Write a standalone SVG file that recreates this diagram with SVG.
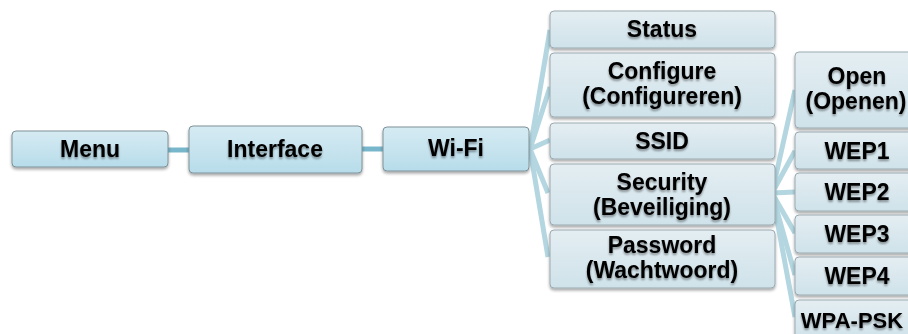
<svg xmlns="http://www.w3.org/2000/svg" width="908" height="334" viewBox="0 0 908 334">
<defs>
<linearGradient id="g1" x1="0" y1="0" x2="0" y2="1">
<stop offset="0" stop-color="#d6ebf3"/>
<stop offset="1" stop-color="#b7dcea"/>
</linearGradient>
<linearGradient id="g2" x1="0" y1="0" x2="0" y2="1">
<stop offset="0" stop-color="#e4eef2"/>
<stop offset="1" stop-color="#cfe2ea"/>
</linearGradient>
<filter id="sh" x="-10%" y="-20%" width="120%" height="150%">
<feGaussianBlur in="SourceAlpha" stdDeviation="1.5"/>
<feOffset dy="2" result="b"/>
<feComponentTransfer><feFuncA type="linear" slope="0.35"/></feComponentTransfer>
<feMerge><feMergeNode/><feMergeNode in="SourceGraphic"/></feMerge>
</filter>
<filter id="ts" x="-10%" y="-30%" width="120%" height="160%">
<feGaussianBlur in="SourceAlpha" stdDeviation="1.2"/>
<feOffset dy="1.5"/>
<feComponentTransfer><feFuncA type="linear" slope="0.4"/></feComponentTransfer>
<feMerge><feMergeNode/><feMergeNode in="SourceGraphic"/></feMerge>
</filter>
</defs>
<style>
.b1{fill:url(#g1);stroke:#7f9299;stroke-width:1;filter:url(#sh)}
.b2{fill:url(#g2);stroke:#9aaab0;stroke-width:1;filter:url(#sh)}
text{font-family:"Liberation Sans",Arial,sans-serif;font-weight:bold;font-size:23px;fill:#000;text-anchor:middle;filter:url(#ts)}
.c1{stroke:#78b6cb;stroke-width:5;fill:none}
.c2{stroke:#b3d6e0;stroke-width:5;fill:none}
</style>
<g id="connectors">
<line class="c1" x1="168" y1="150" x2="189" y2="150"/>
<line class="c1" x1="362" y1="149" x2="383" y2="149"/>
<line class="c2" x1="530" y1="149" x2="550" y2="30"/>
<line class="c2" x1="530" y1="149" x2="550" y2="87"/>
<line class="c2" x1="530" y1="149" x2="550" y2="140"/>
<line class="c2" x1="530" y1="149" x2="548" y2="193"/>
<line class="c2" x1="530" y1="149" x2="548" y2="257"/>
<line class="c2" x1="772" y1="193" x2="795" y2="90"/>
<line class="c2" x1="772" y1="193" x2="795" y2="151"/>
<line class="c2" x1="772" y1="193" x2="795" y2="192"/>
<line class="c2" x1="772" y1="193" x2="795" y2="233"/>
<line class="c2" x1="772" y1="193" x2="795" y2="275"/>
<line class="c2" x1="772" y1="193" x2="795" y2="317"/>
</g>
<g id="menu"><rect class="b1" x="12" y="131" width="156" height="36" rx="4"/><text x="90" y="157">Menu</text></g>
<g id="interface"><rect class="b1" x="189" y="126" width="173" height="47" rx="4"/><text x="275" y="157">Interface</text></g>
<g id="wifi"><rect class="b1" x="383" y="127" width="146" height="44" rx="4"/><text x="456" y="156">Wi-Fi</text></g>
<g id="status"><rect class="b2" x="550" y="11" width="225" height="37" rx="4"/><text x="662" y="37">Status</text></g>
<g id="configure"><rect class="b2" x="550" y="53" width="225" height="64" rx="4"/><text x="662" y="79">Configure</text><text x="662" y="104">(Configureren)</text></g>
<g id="ssid"><rect class="b2" x="550" y="123" width="225" height="36" rx="4"/><text x="662" y="149">SSID</text></g>
<g id="security"><rect class="b2" x="550" y="164" width="225" height="61" rx="4"/><text x="662" y="190">Security</text><text x="662" y="215">(Beveiliging)</text></g>
<g id="password"><rect class="b2" x="550" y="230" width="225" height="58" rx="4"/><text x="662" y="253">Password</text><text x="662" y="278">(Wachtwoord)</text></g>
<g id="open"><rect class="b2" x="795" y="52" width="130" height="76" rx="4"/><text x="857" y="84">Open</text><text x="856" y="109">(Openen)</text></g>
<g id="wep1"><rect class="b2" x="795" y="132" width="130" height="37" rx="4"/><text x="857" y="159">WEP1</text></g>
<g id="wep2"><rect class="b2" x="795" y="173" width="130" height="38" rx="4"/><text x="857" y="200">WEP2</text></g>
<g id="wep3"><rect class="b2" x="795" y="215" width="130" height="38" rx="4"/><text x="857" y="242">WEP3</text></g>
<g id="wep4"><rect class="b2" x="795" y="257" width="130" height="38" rx="4"/><text x="857" y="284">WEP4</text></g>
<g id="wpapsk"><rect class="b2" x="795" y="300" width="130" height="40" rx="4"/><text x="852" y="328" style="font-size:22px">WPA-PSK</text></g>
</svg>
